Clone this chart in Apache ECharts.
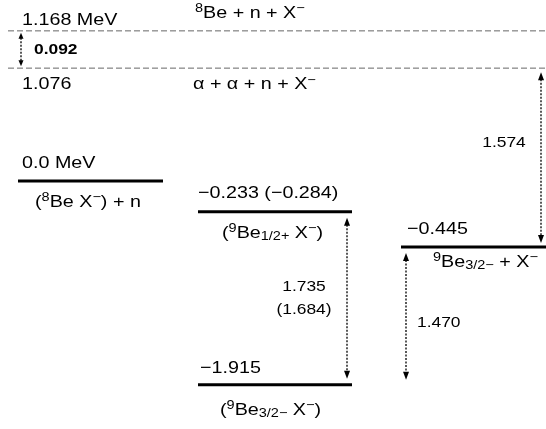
<!DOCTYPE html>
<html><head><meta charset="utf-8">
<script src="https://cdn.jsdelivr.net/npm/echarts@6/dist/echarts.min.js"></script>
<style>html,body{margin:0;padding:0;background:#fff}#c{width:546px;height:429px}</style>
</head><body><div id="c"></div>
<script>
// ---- data ----
const levelEnergyLabels = ['1.168 MeV', '1.076', '0.0 MeV', '\u22120.233 (\u22120.284)', '\u22120.445', '\u22121.915'];
const levelStates = [
  '{sup|8}Be + n + X{sup|\u2212}',
  '\u03b1 + \u03b1 + n + X{sup|\u2212}',
  '({sup|8}Be X{sup|\u2212}) + n',
  '({sup|9}Be{sub|1/2+} X{sup|\u2212})',
  '{sup|9}Be{sub|3/2\u2212} + X{sup|\u2212}',
  '({sup|9}Be{sub|3/2\u2212} X{sup|\u2212})'
];
// schematic (not-to-scale) drawing heights of the levels, as in the figure
const levelDiagramY = [1.41, 1.06, 0.0, -0.29, -0.62, -1.915];
const levelIsThreshold = [true, true, false, false, false, false];
const gapLabels = ['0.092', '1.735\n(1.684)', '1.574', '1.470'];
const gapFrom = [0, 3, 1, 4];
const gapTo = [1, 5, 4, 5];

// ---- layout ----
const FONT = '"Liberation Sans", Arial, sans-serif';
const SX = 1.16; // the figure's lettering is horizontally stretched
const levelLayout = [
  {x1: 8, x2: 546, eX: 22, eDy: -11, sX: 195, sDy: -18},
  {x1: 8, x2: 546, eX: 22, eDy: 16, sX: 193, sDy: 16},
  {x1: 18, x2: 163, eX: 22, eDy: -18, sX: 35, sDy: 21},
  {x1: 198, x2: 352, eX: 198, eDy: -19, sX: 222, sDy: 21},
  {x1: 401, x2: 546, eX: 407, eDy: -18, sX: 433, sDy: 15},
  {x1: 198, x2: 352, eX: 200, eDy: -17, sX: 220, sDy: 25}
];
const gapLayout = [
  {x: 21, in1: 2, in2: 2, lx: 34, ldy: 0, align: 'left', bold: true, size: 15, hw: 2.5, hh: 6},
  {x: 347, in1: 6, in2: 6, lx: 304, ldy: 0, align: 'center', bold: false, size: 15, hw: 3, hh: 8},
  {x: 541, in1: 4, in2: 4, lx: 504, ldy: -15, align: 'center', bold: false, size: 15, hw: 3, hh: 8},
  {x: 406, in1: 6, in2: 5, lx: 417, ldy: 7, align: 'left', bold: false, size: 15, hw: 3, hh: 8}
];
const rich = {
  sup: {fontSize: 12.5, lineHeight: 11, verticalAlign: 'top', fontFamily: FONT, fill: '#000'},
  sub: {fontSize: 12.5, lineHeight: 11, verticalAlign: 'bottom', fontFamily: FONT, fill: '#000'}
};

const levelData = levelDiagramY.map((y, i) => [i, y]);
const gapData = gapLabels.map((g, i) => [i]);

const chart = echarts.init(document.getElementById('c'), null, {renderer: 'canvas'});
chart.setOption({
  animation: false,
  backgroundColor: '#fff',
  grid: {left: 0, right: 0, top: 0, bottom: 0},
  xAxis: {type: 'value', min: 0, max: 546, show: false},
  yAxis: {type: 'value', min: -2.33, max: 1.70, show: false},
  series: [
    {
      type: 'custom',
      coordinateSystem: 'cartesian2d',
      clip: false,
      data: levelData,
      renderItem: function (params, api) {
        const i = api.value(0);
        const y = api.value(1);
        const L = levelLayout[i];
        const p1 = api.coord([L.x1, y]);
        const p2 = api.coord([L.x2, y]);
        const pe = api.coord([L.eX, y]);
        const ps = api.coord([L.sX, y]);
        const dashed = levelIsThreshold[i];
        return {
          type: 'group',
          children: [
            {type: 'line', shape: {x1: p1[0], y1: p1[1], x2: p2[0], y2: p2[1]},
             style: dashed ? {stroke: '#666', lineWidth: 1, lineDash: [6, 3]} : {stroke: '#000', lineWidth: 3}},
            {type: 'text', x: pe[0], y: pe[1] + L.eDy, scaleX: SX,
             style: {text: levelEnergyLabels[i], fill: '#000', font: '17px ' + FONT, align: 'left', verticalAlign: 'middle'}},
            {type: 'text', x: ps[0], y: ps[1] + L.sDy, scaleX: SX,
             style: {text: levelStates[i], rich: rich, fill: '#000', font: '17px ' + FONT, lineHeight: 21, align: 'left', verticalAlign: 'middle'}}
          ]
        };
      }
    },
    {
      type: 'custom',
      coordinateSystem: 'cartesian2d',
      clip: false,
      data: gapData,
      renderItem: function (params, api) {
        const g = api.value(0);
        const G = gapLayout[g];
        const a = api.coord([G.x, levelDiagramY[gapFrom[g]]]);
        const b = api.coord([G.x, levelDiagramY[gapTo[g]]]);
        const yTop = a[1] + G.in1;
        const yBot = b[1] - G.in2;
        const x = a[0];
        const mid = (a[1] + b[1]) / 2;
        return {
          type: 'group',
          children: [
            {type: 'line', shape: {x1: x, y1: yTop + G.hh - 1, x2: x, y2: yBot - G.hh + 1},
             style: {stroke: '#000', lineWidth: 1.3, lineDash: [2, 1.5]}},
            {type: 'polygon', shape: {points: [[x, yTop], [x - G.hw, yTop + G.hh], [x + G.hw, yTop + G.hh]]},
             style: {fill: '#000'}},
            {type: 'polygon', shape: {points: [[x, yBot], [x - G.hw, yBot - G.hh], [x + G.hw, yBot - G.hh]]},
             style: {fill: '#000'}},
            {type: 'text', x: api.coord([G.lx, 0])[0], y: mid + G.ldy, scaleX: SX,
             style: {text: gapLabels[g], fill: '#000', font: (G.bold ? 'bold ' : '') + G.size + 'px ' + FONT,
                     lineHeight: 23, align: G.align, verticalAlign: 'middle'}}
          ]
        };
      }
    }
  ]
});
</script>
</body></html>
